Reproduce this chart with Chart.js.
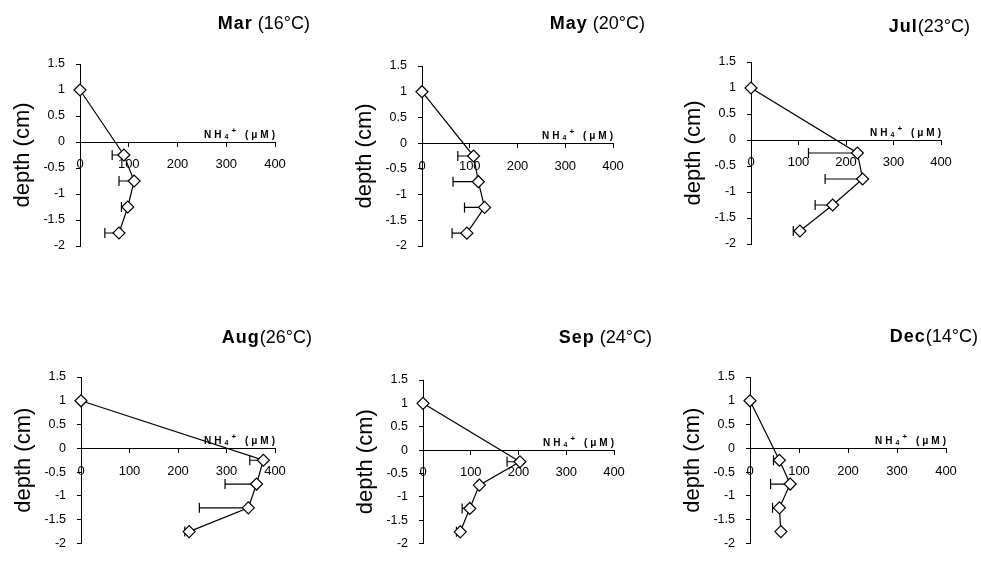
<!DOCTYPE html>
<html>
<head>
<meta charset="utf-8">
<script src="https://cdn.jsdelivr.net/npm/chart.js@4.4.1/dist/chart.umd.min.js"></script>
<style>
  body { margin: 0; background: #fff; width: 981px; height: 562px; overflow: hidden; position: relative; }
  canvas { position: absolute; }
</style>
</head>
<body>
<canvas id="c0" width="327" height="281" style="left:0px;top:0px"></canvas>
<canvas id="c1" width="327" height="281" style="left:327px;top:0px"></canvas>
<canvas id="c2" width="327" height="281" style="left:654px;top:0px"></canvas>
<canvas id="c3" width="327" height="281" style="left:0px;top:281px"></canvas>
<canvas id="c4" width="327" height="281" style="left:327px;top:281px"></canvas>
<canvas id="c5" width="327" height="281" style="left:654px;top:281px"></canvas>
<script>
// depth profiles of NH4+ (uM), one panel per month
const months = ['Mar', 'May', 'Jul', 'Aug', 'Sep', 'Dec'];
const temps = [' (16°C)', ' (20°C)', '(23°C)', '(26°C)', ' (24°C)', '(14°C)'];
const depths = [1, -0.25, -0.75, -1.25, -1.75];

const marValues = [0, 90, 111, 98, 80];
const marErrors = [0, 24, 31, 13, 29];
const mayValues = [0, 108, 118, 131, 94];
const mayErrors = [0, 33, 53, 42, 31];
const julValues = [0, 224, 235, 172, 103];
const julErrors = [0, 103, 79, 37, 14];
const augValues = [0, 376, 362, 345, 223];
const augErrors = [0, 28, 65, 101, 9];
const sepValues = [0, 203, 118, 98, 78];
const sepErrors = [0, 27, 4, 16, 8];
const decValues = [0, 60, 82, 60, 63];
const decErrors = [0, 12, 40, 14, 0];

const xMin = 0, xMax = 400, xStep = 100;
const yMin = -2, yMax = 1.5, yStep = 0.5;

const allValues = [marValues, mayValues, julValues, augValues, sepValues, decValues];
const allErrors = [marErrors, mayErrors, julErrors, augErrors, sepErrors, decErrors];

// plot frame inside each canvas: left, right, top, bottom, title right, title baseline
const frames = [
  [80, 275, 64, 246, 310, 29],
  [95, 286, 66, 246, 318, 29],
  [97, 287, 62, 244, 316, 32],
  [81, 275, 96, 276, 312, 62],
  [96, 287, 99, 277, 325, 62],
  [96, 292, 96, 278, 324, 61]
];

const FONT = '"Liberation Sans", Arial, sans-serif';
const Y_AXIS_W = 75;
const CW = 327, CH = 281;

const errorBars = {
  id: 'errorBars',
  beforeDatasetsDraw(chart, args, opts) {
    const {ctx, scales: {x, y}} = chart;
    ctx.save();
    ctx.strokeStyle = '#000';
    ctx.lineWidth = 1.2;
    opts.values.forEach((v, i) => {
      const e = opts.errors[i];
      if (!e) return;
      const py = y.getPixelForValue(opts.depths[i]);
      const x0 = x.getPixelForValue(v - e);
      const x1 = x.getPixelForValue(v);
      ctx.beginPath();
      ctx.moveTo(x0, py); ctx.lineTo(x1, py);
      ctx.moveTo(x0, py - 5); ctx.lineTo(x0, py + 5);
      ctx.stroke();
    });
    ctx.restore();
  }
};

const labels = {
  id: 'labels',
  afterDraw(chart, args, opts) {
    const {ctx, scales: {x, y}} = chart;
    ctx.save();
    ctx.fillStyle = '#000';
    ctx.textBaseline = 'alphabetic';
    // panel title: bold month + regular temperature
    ctx.font = '18px ' + FONT;
    const tw = ctx.measureText(opts.temp).width;
    ctx.letterSpacing = '1px';
    ctx.font = 'bold 18px ' + FONT;
    const mw = ctx.measureText(opts.month).width;
    const tx = opts.titleRight - tw - mw;
    ctx.fillText(opts.month, tx, opts.titleBase);
    ctx.letterSpacing = '0px';
    ctx.font = '18px ' + FONT;
    ctx.fillText(opts.temp, tx + mw, opts.titleBase);

    // axis title NH4+ (uM) sitting on the x axis, right aligned
    const base = y.getPixelForValue(0) - 4;
    const parts = [
      ['NH', 'bold 10px ' + FONT, 0],
      ['4', 'bold 7px ' + FONT, 1],
      ['+', 'bold 8px ' + FONT, -5],
      [' (μM)', 'bold 10px ' + FONT, 0]
    ];
    ctx.letterSpacing = '3px';
    let total = 0;
    parts.forEach(p => { ctx.font = p[1]; total += ctx.measureText(p[0]).width; });
    let cx = x.getPixelForValue(xMax) - total + 3;
    parts.forEach(p => {
      ctx.font = p[1];
      ctx.fillText(p[0], cx, base + p[2]);
      cx += ctx.measureText(p[0]).width;
    });
    ctx.restore();
  }
};

months.forEach((m, k) => {
  const f = frames[k];
  const vals = allValues[k];
  const pts = vals.map((v, i) => ({x: v, y: depths[i]}));
  new Chart(document.getElementById('c' + k), {
    type: 'scatter',
    data: {
      datasets: [{
        data: pts,
        showLine: true,
        borderColor: '#000',
        borderWidth: 1.2,
        pointStyle: 'rectRot',
        pointRadius: 6,
        pointBackgroundColor: '#fff',
        pointBorderColor: '#000',
        pointBorderWidth: 1.2,
        clip: false
      }]
    },
    options: {
      responsive: false,
      animation: false,
      layout: {
        padding: {left: f[0] - Y_AXIS_W, right: CW - f[1], top: f[2], bottom: CH - f[3]}
      },
      plugins: {
        legend: {display: false},
        tooltip: {enabled: false},
        errorBars: {values: vals, errors: allErrors[k], depths: depths},
        labels: {month: m, temp: temps[k], titleRight: f[4], titleBase: f[5]}
      },
      scales: {
        x: {
          type: 'linear',
          position: {y: 0},
          min: xMin, max: xMax,
          afterFit: s => { s.height = 0; },
          ticks: {stepSize: xStep, color: '#000', padding: 11, font: {family: FONT, size: 13}},
          grid: {drawOnChartArea: false, drawTicks: true, tickLength: 4, color: '#000'},
          border: {display: true, color: '#000', width: 1}
        },
        y: {
          type: 'linear',
          position: 'left',
          min: yMin, max: yMax,
          afterFit: s => { s.width = Y_AXIS_W; },
          ticks: {stepSize: yStep, color: '#000', padding: 11, font: {family: FONT, size: 12.5},
                  callback: v => String(v)},
          grid: {drawOnChartArea: false, drawTicks: true, tickLength: 4, color: '#000'},
          border: {display: true, color: '#000', width: 1},
          title: {display: true, text: 'depth (cm)', color: '#000', padding: {top: 5}, font: {family: FONT, size: 22}}
        }
      }
    },
    plugins: [errorBars, labels]
  });
});
</script>
</body>
</html>
